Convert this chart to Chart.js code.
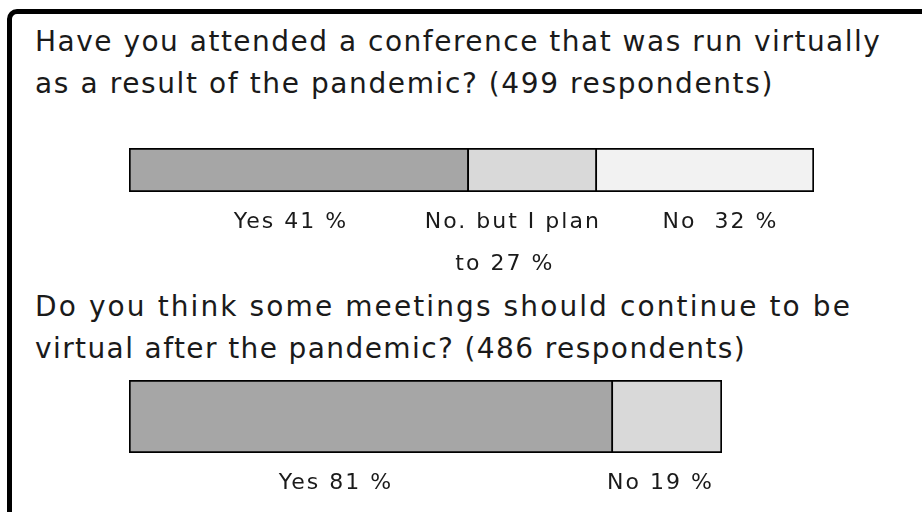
<!DOCTYPE html>
<html>
<head>
<meta charset="utf-8">
<script src="https://cdn.jsdelivr.net/npm/chart.js@4"></script>
<style>
  html, body { margin: 0; padding: 0; background: #fff; }
  body { width: 922px; height: 512px; position: relative; overflow: hidden; font-family: "DejaVu Sans", sans-serif; }
  .frame { position: absolute; left: 7px; top: 9px; width: 940px; height: 540px; border: 5px solid #000; border-radius: 10px; box-sizing: border-box; }
  .q { position: absolute; left: 35px; font-size: 28px; line-height: 42px; color: #1a1a1a; white-space: nowrap; }
  .q span { display: block; }
  .wrap { position: absolute; left: 0; width: 922px; }
</style>
</head>
<body>
<div class="frame"></div>
<div class="q" style="top:21px">
  <span style="letter-spacing:1.5px">Have you attended a conference that was run virtually</span>
  <span style="letter-spacing:1.6px">as a result of the pandemic? (499 respondents)</span>
</div>
<div class="q" style="top:286px">
  <span style="letter-spacing:2.1px">Do you think some meetings should continue to be</span>
  <span style="letter-spacing:1.4px">virtual after the pandemic? (486 respondents)</span>
</div>
<div class="wrap" style="top:148px;height:130px"><canvas id="c1"></canvas></div>
<div class="wrap" style="top:380px;height:120px"><canvas id="c2"></canvas></div>

<script>
// question 1: bar segments as drawn, and the text under them
const q1Labels = [["Yes 41 %"], ["No. but I plan", "to 27 %"], ["No  32 %"]];
const q1Values = [49.6, 18.7, 31.7];
// question 2
const q2Labels = [["Yes 81 %"], ["No 19 %"]];
const q2Values = [81.6, 18.4];

const greys = ['#a6a6a6', '#d9d9d9', '#f2f2f2'];

// writes each label under the middle of its segment
const segLabels = {
    id: 'segLabels',
    afterDraw(chart, args, opts) {
        const ctx = chart.ctx;
        const x = chart.scales.x;
        const bottom = chart.chartArea.bottom;
        let start = 0;
        ctx.save();
        ctx.font = '22px "DejaVu Sans"';
        ctx.letterSpacing = '2px';
        ctx.fillStyle = '#1a1a1a';
        ctx.textAlign = 'center';
        ctx.textBaseline = 'alphabetic';
        chart.data.datasets.forEach((ds, i) => {
            const v = ds.data[0];
            const mid = x.getPixelForValue(start + v / 2) + (opts.shift[i] || 0);
            opts.labels[i].forEach((line, j) => {
                // wrapped second line sits a little left in the original
                ctx.fillText(line, mid - j * 8, bottom + 36 + j * 42);
            });
            start += v;
        });
        ctx.restore();
    }
};

function makeBar(id, values, labels, shift, barH, rightPad) {
    const datasets = values.map((v, i) => ({
        data: [v],
        backgroundColor: greys[i],
        borderColor: '#000',
        borderWidth: { top: 2, bottom: 2, left: i === 0 ? 2 : 0, right: 2 },
        borderSkipped: false,
        barPercentage: 1,
        categoryPercentage: 1
    }));
    const canvas = document.getElementById(id);
    const h = canvas.parentNode.clientHeight;
    new Chart(canvas, {
        type: 'bar',
        data: { labels: [''], datasets: datasets },
        options: {
            indexAxis: 'y',
            responsive: true,
            maintainAspectRatio: false,
            animation: false,
            layout: { padding: { left: 129, right: rightPad, top: 0, bottom: h - barH } },
            scales: {
                x: { stacked: true, min: 0, max: 100, display: false },
                y: { stacked: true, display: false }
            },
            plugins: {
                legend: { display: false },
                tooltip: { enabled: false },
                segLabels: { labels: labels, shift: shift }
            }
        },
        plugins: [segLabels]
    });
}

makeBar('c1', q1Values, q1Labels, [-8, -20, 15], 44, 108);
makeBar('c2', q2Values, q2Labels, [-35, -7], 73, 200);
</script>
</body>
</html>
